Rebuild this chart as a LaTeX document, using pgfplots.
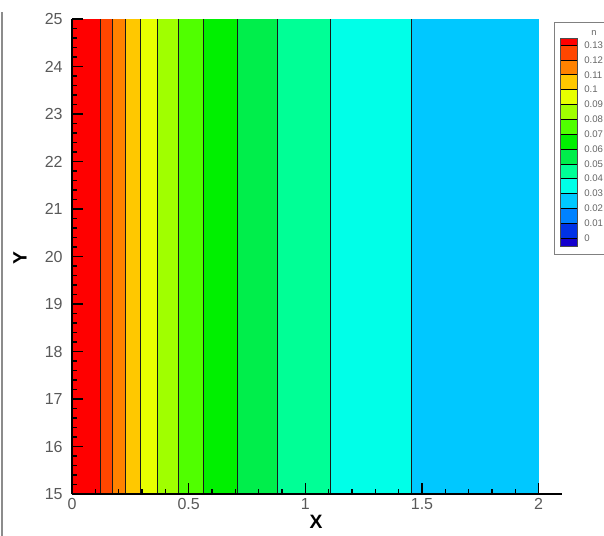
\documentclass[border=0pt]{standalone}
\usepackage{pgfplots}
\pgfplotsset{compat=1.18}
\usepackage{fontspec}
\setmainfont{Liberation Sans}
\definecolor{cA}{RGB}{255,0,0}
\definecolor{cB}{RGB}{255,70,0}
\definecolor{cC}{RGB}{255,130,0}
\definecolor{cD}{RGB}{255,200,0}
\definecolor{cE}{RGB}{232,255,0}
\definecolor{cF}{RGB}{160,255,0}
\definecolor{cG}{RGB}{80,255,0}
\definecolor{cH}{RGB}{0,240,0}
\definecolor{cI}{RGB}{0,238,75}
\definecolor{cJ}{RGB}{0,255,150}
\definecolor{cK}{RGB}{0,255,232}
\definecolor{cL}{RGB}{0,200,255}
\definecolor{cM}{RGB}{0,130,255}
\definecolor{cN}{RGB}{0,50,230}
\definecolor{cO}{RGB}{20,0,205}
\begin{document}
\begin{tikzpicture}
\useasboundingbox (0,0) rectangle (453pt,402pt);
\begin{axis}[
  at={(54pt,31.5pt)}, anchor=south west,
  scale only axis, width=367.5pt, height=356.25pt,
  xmin=0, xmax=2.1, ymin=15, ymax=25,
  axis lines=left, axis line style={-, line width=1pt, black},
  axis on top,
  tick align=inside,
  major tick length=8pt, minor tick length=4pt,
  every tick/.style={black, line width=0.8pt},
  xtick={0,0.5,1,1.5,2}, minor x tick num=4,
  ytick={15,16,...,25}, minor y tick num=4,
  /pgf/number format/assume math mode=true,
  tick label style={font=\fontsize{12}{12}\selectfont, text=black!65},
  yticklabel style={xshift=-3.5pt},
  xlabel={\textbf{X}}, ylabel={\textbf{Y}},
  label style={font=\fontsize{14.5}{14.5}\selectfont},
  xlabel style={at={(axis description cs:0.498,-0.059)}, anchor=center},
  ylabel style={at={(axis description cs:-0.106,0.497)}, anchor=center},
]
\addplot[fill=cA, draw=none] coordinates {(0,15) (0.12,15) (0.12,25) (0,25)} --cycle;
\addplot[fill=cB, draw=none] coordinates {(0.12,15) (0.171,15) (0.171,25) (0.12,25)} --cycle;
\addplot[fill=cC, draw=none] coordinates {(0.171,15) (0.227,15) (0.227,25) (0.171,25)} --cycle;
\addplot[fill=cD, draw=none] coordinates {(0.227,15) (0.291,15) (0.291,25) (0.227,25)} --cycle;
\addplot[fill=cE, draw=none] coordinates {(0.291,15) (0.368,15) (0.368,25) (0.291,25)} --cycle;
\addplot[fill=cF, draw=none] coordinates {(0.368,15) (0.454,15) (0.454,25) (0.368,25)} --cycle;
\addplot[fill=cG, draw=none] coordinates {(0.454,15) (0.565,15) (0.565,25) (0.454,25)} --cycle;
\addplot[fill=cH, draw=none] coordinates {(0.565,15) (0.707,15) (0.707,25) (0.565,25)} --cycle;
\addplot[fill=cI, draw=none] coordinates {(0.707,15) (0.878,15) (0.878,25) (0.707,25)} --cycle;
\addplot[fill=cJ, draw=none] coordinates {(0.878,15) (1.109,15) (1.109,25) (0.878,25)} --cycle;
\addplot[fill=cK, draw=none] coordinates {(1.109,15) (1.456,15) (1.456,25) (1.109,25)} --cycle;
\addplot[fill=cL, draw=none] coordinates {(1.456,15) (2.0,15) (2.0,25) (1.456,25)} --cycle;
% contour lines
\addplot[black!90, line width=0.55pt] coordinates {(0.12,15) (0.12,25)};
\addplot[black!90, line width=0.55pt] coordinates {(0.171,15) (0.171,25)};
\addplot[black!90, line width=0.55pt] coordinates {(0.227,15) (0.227,25)};
\addplot[black!90, line width=0.55pt] coordinates {(0.291,15) (0.291,25)};
\addplot[black!90, line width=0.55pt] coordinates {(0.368,15) (0.368,25)};
\addplot[black!90, line width=0.55pt] coordinates {(0.454,15) (0.454,25)};
\addplot[black!90, line width=0.55pt] coordinates {(0.565,15) (0.565,25)};
\addplot[black!90, line width=0.55pt] coordinates {(0.707,15) (0.707,25)};
\addplot[black!90, line width=0.55pt] coordinates {(0.878,15) (0.878,25)};
\addplot[black!90, line width=0.55pt] coordinates {(1.109,15) (1.109,25)};
\addplot[black!90, line width=0.55pt] coordinates {(1.456,15) (1.456,25)};
\end{axis}
\begin{scope}[x=0.75pt, y=0.75pt]
  \clip (0,0) rectangle (604,536);
  % left frame line
  \draw[black!45, line width=0.8pt] (2,0) -- (2,524);
  % legend box
  \draw[black!50, line width=0.6pt, fill=white] (554,514) rectangle (640,282);
  \node[font=\fontsize{7}{7}\selectfont, text=black!60] at (594,503) {n};
  \foreach \c [count=\i from 0] in {cA,cB,cC,cD,cE,cF,cG,cH,cI,cJ,cK,cL,cM,cN,cO} {
    \pgfmathsetmacro\ytop{ifthenelse(\i==0,38,45+(\i-1)*14.85)}
    \pgfmathsetmacro\ybot{ifthenelse(\i==14,246,45+\i*14.85)}
    \fill[\c] (560,{536-\ytop}) rectangle (577,{536-\ybot});
  }
  \foreach \i in {0,...,13} {
    \draw[black, line width=0.4pt] (560,{536-(45+\i*14.85)}) -- (577,{536-(45+\i*14.85)});
  }
  \draw[black!70, line width=0.4pt] (560,498) rectangle (577,290);
  \foreach \lab [count=\i from 0] in {0.13,0.12,0.11,0.1,0.09,0.08,0.07,0.06,0.05,0.04,0.03,0.02,0.01,0} {
    \node[anchor=west, inner sep=0pt, font=\fontsize{7.2}{7.2}\selectfont, text=black!60] at (584,{536-(45+\i*14.85)}) {\lab};
  }
\end{scope}
\end{tikzpicture}
\end{document}
